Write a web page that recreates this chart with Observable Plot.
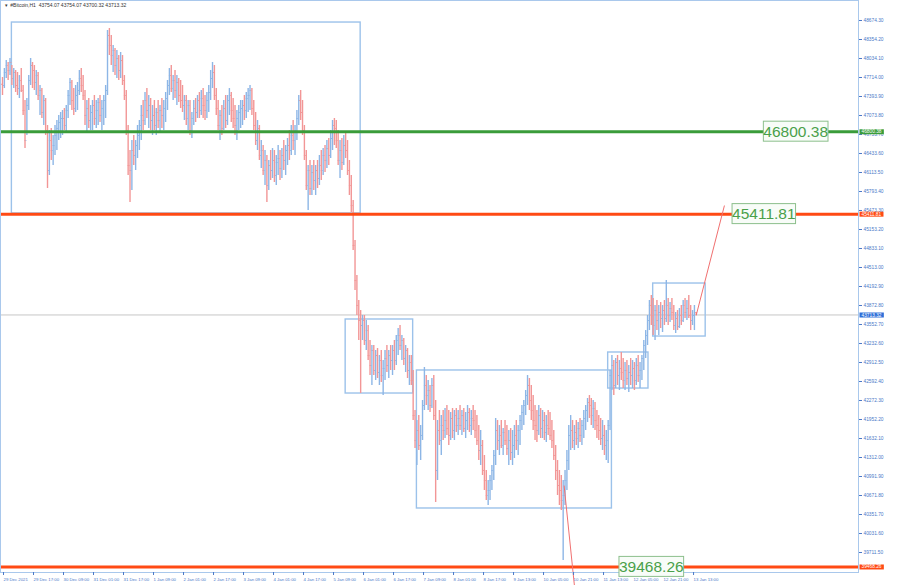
<!DOCTYPE html>
<html><head><meta charset="utf-8">
<script src="https://cdn.jsdelivr.net/npm/d3@7"></script>
<script src="https://cdn.jsdelivr.net/npm/@observablehq/plot@0.6"></script>
<style>
html,body{margin:0;padding:0;background:#fff;}
#chart{width:900px;height:585px;overflow:hidden;}
</style></head><body><div id="chart"></div>
<script>
// ---- #Bitcoin, H1 bars (29 Dec 2021 – 13 Jan 2022) ----
const firstOpen = 47600;
const high = [
47714,47865,48000,47967,48034,47916,47865,47832,47798,47747,47865,47579,47326,47360,47747,48034,
47967,47916,47832,47798,47579,47528,47411,47360,46905,46821,46855,46737,46905,46989,47074,47124,
47158,47191,47242,47495,47697,47663,47528,47579,47630,47832,47865,47747,47495,47326,47360,47242,
47326,47411,47326,47360,47411,47326,47411,47579,48506,48539,48421,48253,48202,48169,48084,48135,
48084,47747,47495,46905,46484,46652,46737,46652,46905,46989,47242,47326,47461,47528,47411,47360,
47242,47326,47191,47326,47242,47360,47326,47461,47663,47865,47916,47747,47832,47747,47697,47663,
47579,47411,47411,47326,47326,47124,47326,47360,47411,47461,47495,47528,47411,47461,47579,47832,
47967,47916,47528,47326,47158,47242,47326,47411,47411,47528,47461,47360,47242,47158,47242,47326,
47326,47411,47461,47528,47579,47528,47326,47124,46989,46905,46652,46568,46484,46400,46316,46484,
46517,46484,46400,46568,46484,46517,46652,46568,46686,46821,46905,46989,46905,47158,47411,47495,
47326,46905,46484,46231,46316,46231,46316,46231,46316,46400,46484,46517,46568,46652,46686,46821,
46989,47023,46989,46821,46652,46686,46737,46787,46652,46316,46063,45642,44968,44378,43957,43788,
43704,43704,43620,43536,43283,43199,43199,43115,43148,43030,43115,42946,43115,43199,43115,43199,
43199,43283,43367,43485,43536,43367,43317,43199,43148,43030,43030,42778,42104,41935,42019,41851,
42272,42828,42693,42609,42525,42643,42693,42272,41935,42104,42019,42104,42137,42188,42104,42070,
42137,42104,42137,42104,42188,42104,42137,42070,42188,42137,42104,42188,42104,42019,41851,41767,
41598,41346,41093,40924,41009,41177,41430,41969,41935,41851,41935,41800,41935,41851,41767,41800,
41767,41851,41935,41851,42019,42188,42272,42441,42693,42643,42525,42356,42188,42104,42188,42137,
42104,42070,42019,42104,42070,41935,41767,41514,41261,41093,41009,40924,41093,41430,41851,42019,
41935,41851,41935,41901,41969,41935,42104,42188,42306,42356,42306,42272,42238,42104,42019,41969,
41935,41851,41767,41935,42778,43030,42946,42980,43030,42946,43081,42980,42912,42946,42862,42980,
42946,42912,42980,43030,42912,43030,43283,43451,43704,43957,44041,43991,43873,43957,43873,43923,
43873,43957,44294,43991,43923,43991,43873,43755,43788,43822,43873,43957,43991,43957,44041,43873,
43788,43873,43754.07];
const low = [
47411,47528,47697,47663,47747,47579,47528,47461,47411,47360,47461,47074,46517,46737,47158,47579,
47528,47495,47411,47326,47074,47023,46905,46737,45844,46063,46316,46231,46400,46484,46652,46686,
46737,46821,46787,47023,47242,47158,47074,47124,47158,47411,47461,47326,46905,46787,46855,46821,
46821,46905,46855,46905,46956,46821,46905,47023,47411,48084,47916,47798,47747,47697,47663,47697,
47579,47326,46737,46063,45608,45810,46231,46147,46349,46484,46652,46821,46905,47023,46855,46821,
46737,46821,46737,46855,46787,46855,46821,46956,47158,47411,47461,47326,47360,47242,47293,47191,
47124,46989,46905,46821,46737,46686,46905,46956,47023,47023,47074,47023,46989,47023,47124,47326,
47528,47326,47074,46821,46652,46737,46821,46855,46905,47074,46956,46855,46737,46652,46821,46855,
46905,46989,47023,47124,47158,47074,46821,46568,46484,46316,46181,46063,45894,45608,45810,45979,
46012,45945,45894,46063,45979,46012,46147,46063,46231,46316,46400,46484,46400,46652,46905,46989,
46737,46316,45810,45473,45726,45726,45810,45726,45844,45894,45979,46063,46113,46181,46231,46349,
46484,46568,46517,46231,46012,46147,46231,46349,46063,45726,45439,44799,44125,43704,43283,42390,
43283,43199,43115,42946,42693,42525,42693,42609,42643,42525,42575,42356,42609,42744,42643,42778,
42693,42778,42862,43030,43115,42946,42862,42744,42643,42525,42525,41935,41463,41177,41430,41261,
41598,42104,42188,42104,42070,42137,41935,40554,40924,41514,41346,41598,41632,41683,41514,41598,
41632,41598,41733,41683,41767,41683,41733,41632,41767,41733,41683,41767,41632,41514,41261,41177,
41009,40756,40588,40503,40588,40756,40924,41177,41430,41346,41463,41346,41514,41346,41177,41261,
41177,41295,41430,41346,41514,41767,41851,42019,42188,42104,41935,41767,41598,41564,41683,41632,
41632,41598,41564,41683,41598,41463,41261,40924,40672,40503,40419,39577,40503,40756,41093,41430,
41463,41430,41514,41463,41564,41514,41632,41767,41901,41969,41851,41800,41767,41632,41598,41514,
41430,41346,41261,41211,41767,42441,42356,42474,42525,42441,42609,42474,42441,42525,42407,42525,
42474,42441,42525,42575,42474,42609,42778,42980,43199,43451,43536,43367,43283,43451,43367,43485,
43418,43536,43586,43536,43586,43620,43451,43401,43451,43485,43536,43586,43654,43620,43654,43451,
43536,43451,43700.32];
const close = [
47579,47798,47916,47832,47967,47697,47798,47579,47528,47663,47495,47158,46652,47242,47663,47916,
47832,47630,47747,47411,47495,47124,47326,46821,46147,46652,46484,46568,46737,46855,46956,47023,
47023,46905,47158,47411,47630,47326,47191,47411,47495,47697,47579,47411,47074,47191,46989,47124,
47242,47023,47158,47293,47074,47191,47326,47495,48421,48253,48084,48169,47916,48034,47832,48000,
47663,47411,46821,46231,46147,46484,46400,46568,46737,46905,47074,46989,47326,47158,47242,46989,
47074,46905,47124,46989,47158,47074,47191,47360,47579,47747,47528,47663,47495,47630,47411,47326,
47242,47326,47023,47242,46821,47023,47191,47124,47326,47158,47360,47242,47158,47326,47461,47697,
47798,47411,47191,46905,47074,46855,47191,46989,47326,47411,47158,47023,46905,47023,47124,47191,
47242,47158,47360,47411,47495,47191,46905,46652,46855,46400,46484,46147,46316,45894,46231,46147,
46316,46063,46282,46349,46181,46400,46316,46484,46568,46484,46737,46652,46821,47023,47326,47124,
46821,46400,45894,46147,45844,46113,45979,46147,46012,46231,46147,46400,46316,46517,46400,46686,
46905,46855,46652,46316,46484,46282,46568,46484,46147,45894,45557,44884,44294,43873,43620,43536,
43620,43283,43451,43030,42862,43115,42778,43030,42744,42946,42693,42811,42980,42862,43030,42946,
43115,42946,43283,43367,43199,43283,42980,43115,42778,42912,42609,42019,41598,41767,41514,41683,
42188,42525,42356,42441,42188,42525,42019,41093,41767,41598,41851,41767,41935,41800,41683,41969,
41767,42019,41851,41969,41851,42019,41800,41935,42070,41851,41969,41935,41767,41598,41430,41514,
41093,40924,40672,40756,40924,41093,41346,41767,41598,41683,41514,41733,41598,41463,41598,41396,
41514,41683,41598,41767,41935,42070,42188,42356,42525,42272,42104,41935,41851,41767,42019,41800,
41935,41733,41851,41800,41683,41598,41346,41093,40840,40756,40588,40672,40924,41261,41683,41767,
41598,41733,41632,41800,41683,41851,41969,42104,42238,42188,42019,42137,41935,41851,41767,41632,
41683,41514,41598,41851,42693,42862,42525,42912,42693,42811,42744,42609,42778,42643,42744,42693,
42811,42609,42862,42693,42778,42980,43199,43367,43620,43873,43704,43536,43788,43620,43755,43654,
43788,43654,43873,43704,43822,43755,43536,43654,43519,43704,43620,43873,43755,43822,43704,43620,
43704,43754.07,43713.32];

// time axis: one label every 16 bars
const tickBars = [0,16,32,48,64,80,96,112,128,144,160,176,192,208,224,240,256,272,288,304,320,336,352,368];
const tickLabels = ["29 Dec 2021","29 Dec 17:00","30 Dec 09:00","31 Dec 01:00","31 Dec 17:00","1 Jan 09:00",
 "2 Jan 01:00","2 Jan 17:00","3 Jan 09:00","4 Jan 01:00","4 Jan 17:00","5 Jan 09:00","6 Jan 01:00",
 "6 Jan 17:00","7 Jan 09:00","8 Jan 01:00","8 Jan 17:00","9 Jan 13:00","10 Jan 05:00","10 Jan 21:00",
 "11 Jan 13:00","12 Jan 05:00","12 Jan 21:00","13 Jan 13:00"];
// price axis labels
const priceTicks = [39711.5,40031.6,40351.7,40671.8,40991.9,41312.0,41632.1,41952.2,42272.3,42592.4,
 42912.5,43232.6,43552.7,43872.8,44192.9,44513.0,44833.1,45153.2,45473.3,45793.4,46113.5,46433.6,
 46753.7,47073.8,47393.9,47714.0,48034.1,48354.2,48674.3];
// horizontal levels
const levelPrices = [46800.38, 45411.81, 39468.26];
const levelColors = ["#3a9c3a", "#ff4a14", "#ff4a14"];
const levelNoteBars = [423, 406, 346];
const currentPrice = 43713.32;
// consolidation boxes (bar index, price)
const boxBar1 = [5, 183, 221, 323, 347];
const boxBar2 = [191, 219, 325, 344.5, 375];
const boxTop = [48640, 43637, 42778, 43081, 44243];
const boxBottom = [45423, 42390, 40453, 42474, 43350];
// projection lines
const lineBar1 = [370, 299.5];
const linePrice1 = [43713.32, 40840];
const lineBar2 = [385, 305];
const linePrice2 = [45557, 39155];

const bars = close.map((c, i) => ({i, open: i ? close[i-1] : firstOpen, high: high[i], low: low[i], close: c}));
const levels = levelPrices.map((p, k) => ({price: p, color: levelColors[k], bar: levelNoteBars[k]}));
const tags = [...levels.map(d => ({price: d.price, color: d.color})), {price: currentPrice, color: "#2f6fd8"}];
const boxes = boxBar1.map((b, k) => ({x1: b, x2: boxBar2[k], y1: boxBottom[k], y2: boxTop[k]}));
const lines = lineBar1.map((b, k) => ({x1: b, y1: linePrice1[k], x2: lineBar2[k], y2: linePrice2[k]}));

const upC = "#8db6e6", dnC = "#f29696";
const col = d => d.close >= d.open ? upC : dnC;

const chart = Plot.plot({
  width: 900, height: 585,
  marginLeft: 0, marginRight: 42, marginTop: 0, marginBottom: 13,
  x: {domain: [-1.07, 456.5], axis: null},
  y: {domain: [39374.6, 49011.1], axis: null},
  style: {background: "#ffffff", fontFamily: "'Liberation Sans', Arial, sans-serif", overflow: "visible"},
  marks: [
    Plot.ruleY([currentPrice], {stroke: "#c6c6c6", strokeWidth: 1}),
    Plot.rect(boxes, {x1: "x1", x2: "x2", y1: "y1", y2: "y2", fill: "none", stroke: "#9cc2ea", strokeWidth: 1.4}),
    Plot.ruleX(bars, {x: "i", y1: "low", y2: "high", stroke: col, strokeWidth: 1.4}),
    Plot.ruleY(bars, {y: "open", x1: d => d.i - 0.5, x2: "i", stroke: col, strokeWidth: 1}),
    Plot.ruleY(bars, {y: "close", x1: "i", x2: d => d.i + 0.5, stroke: col, strokeWidth: 1}),
    Plot.ruleY(levels, {y: "price", stroke: "color", strokeWidth: 3}),
    Plot.link(lines, {x1: "x1", y1: "y1", x2: "x2", y2: "y2", stroke: "#f07070", strokeWidth: 1}),
    Plot.frame({stroke: "#a9c8ec", strokeWidth: 1}),
    Plot.axisY({anchor: "right", ticks: priceTicks, tickFormat: d => d.toFixed(2), fontSize: 4.8,
      tickSize: 3, tickPadding: 2, color: "#4a78c8"}),
    Plot.axisX({anchor: "bottom", ticks: tickBars, tickFormat: d => tickLabels[tickBars.indexOf(d)],
      fontSize: 4.3, tickSize: 3, tickPadding: 2, textAnchor: "start", dx: 1, color: "#4a78c8"}),
    Plot.text(tags, {y: "price", text: d => d.price.toFixed(2), frameAnchor: "right", dx: 3,
      textAnchor: "start", fill: "white", fontSize: 4.8, className: "pricetag"}),
    Plot.text(levels, {x: "bar", y: "price", text: d => d.price.toFixed(2), fill: "#4aa04a",
      fontSize: 15.5, className: "note"}),
    Plot.text(["▾  #Bitcoin,H1  43754.07 43754.07 43700.32 43713.32"], {frameAnchor: "top-left",
      dx: 4, dy: 3, fontSize: 5, fill: "#333", lineAnchor: "top"})
  ]
});
document.getElementById("chart").appendChild(chart);

function boxBehind(selector, fillFn, strokeFn, pad) {
  d3.select(chart).selectAll(selector + " text").each(function(d, i) {
    const b = this.getBBox();
    const r = document.createElementNS("http://www.w3.org/2000/svg", "rect");
    r.setAttribute("x", b.x - pad[0]);
    r.setAttribute("y", b.y - pad[1]);
    r.setAttribute("width", b.width + 2 * pad[0]);
    r.setAttribute("height", b.height + 2 * pad[1]);
    r.setAttribute("fill", fillFn(i));
    r.setAttribute("stroke", strokeFn(i));
    const t = this.getAttribute("transform");
    if (t) r.setAttribute("transform", t);
    this.parentNode.insertBefore(r, this);
  });
}
boxBehind(".pricetag", i => tags[i].color, () => "none", [2, 0]);
boxBehind(".note", () => "#f8fcf8", () => "#8cbf8c", [0, 1.5]);
</script></body></html>
